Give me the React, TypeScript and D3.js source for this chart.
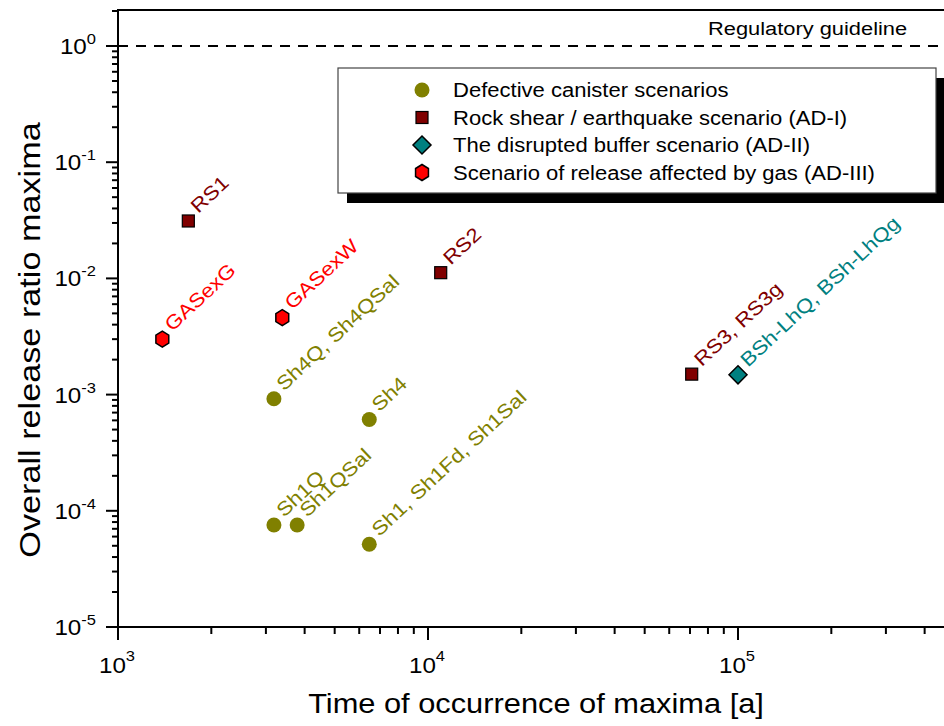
import React from "react";
import * as d3 from "d3";

const W = 944;
const H = 726;
const FONT = "'Liberation Sans', Arial, sans-serif";

// ---- data ----
const groups = ["defective", "rockshear", "buffer", "gas"];
const groupLegend = [
  "Defective canister scenarios",
  "Rock shear / earthquake scenario (AD-I)",
  "The disrupted buffer scenario (AD-II)",
  "Scenario of release affected by gas (AD-III)",
];
const groupFill = ["#808000", "#800000", "#008080", "#FF0000"];
const groupText = ["#808000", "#800000", "#008080", "#FF0000"];

const labels = [
  "Sh4Q, Sh4QSal",
  "Sh4",
  "Sh1Q",
  "Sh1QSal",
  "Sh1, Sh1Fd, Sh1Sal",
  "RS1",
  "RS2",
  "RS3, RS3g",
  "BSh-LhQ, BSh-LhQg",
  "GASexG",
  "GASexW",
];
const times = [3184, 6465, 3184, 3784, 6465, 1686, 10990, 70900, 100000, 1390, 3388];
const ratios = [9.2e-4, 6.1e-4, 7.55e-5, 7.55e-5, 5.15e-5, 0.0312, 0.0112, 0.0015, 0.00148, 0.0030, 0.0046];
const groupOf = [0, 0, 0, 0, 0, 1, 1, 1, 2, 3, 3];

const guidelineValue = 1;
const guidelineLabel = "Regulatory guideline";
const xMajorTicks = [1e3, 1e4, 1e5];
const yMajorTicks = [1, 1e-1, 1e-2, 1e-3, 1e-4, 1e-5];
const xTitle = "Time of occurrence of maxima [a]";
const yTitle = "Overall release ratio maxima";

// ---- scales ----
const x = d3.scaleLog().domain([1e3, 1e6]).range([118, 1048]);
const y = d3.scaleLog().domain([1e-5, 1]).range([627, 46]);
const left = 118;
const bottom = 627;
const top = 10;
const right = W + 2;

function Marker({ g, cx, cy }: { g: number; cx: number; cy: number }) {
  const fill = groupFill[g];
  if (g === 0) return <circle cx={cx} cy={cy} r={7.5} fill={fill} />;
  if (g === 1) {
    const s = 12;
    return <rect x={cx - s / 2} y={cy - s / 2} width={s} height={s} fill={fill} stroke="#000" strokeWidth={1.2} />;
  }
  if (g === 2) {
    const r = 9;
    const pts = [[cx, cy - r], [cx + r, cy], [cx, cy + r], [cx - r, cy]].map((p) => p.join(",")).join(" ");
    return <polygon points={pts} fill={fill} stroke="#000" strokeWidth={1.5} />;
  }
  const r = 8;
  const pts = d3
    .range(6)
    .map((i) => {
      const a = (Math.PI / 3) * i - Math.PI / 2;
      return [cx + r * Math.cos(a) * 0.93, cy + r * Math.sin(a)].join(",");
    })
    .join(" ");
  return <polygon points={pts} fill={fill} stroke="#000" strokeWidth={1.5} />;
}

function STxt({ x0, y0, rot = 0, sx = 1.14, size, anchor = "start", fill = "#000", children }: any) {
  return (
    <text
      transform={`translate(${x0},${y0}) rotate(${rot}) scale(${sx},1)`}
      fontFamily={FONT}
      fontSize={size}
      textAnchor={anchor}
      fill={fill}
    >
      {children}
    </text>
  );
}

export default function App() {
  const xMinor = x.ticks().filter((v) => !xMajorTicks.includes(v));
  const yMinor = d3
    .scaleLog()
    .domain([1e-5, 2])
    .ticks()
    .filter((v) => !yMajorTicks.some((m) => Math.abs(m - v) / m < 1e-6) && y(v) >= top);

  const exp = (v: number) => String(Math.round(Math.log10(v)));

  const lgX = 338, lgY = 68, lgW = 598, lgH = 125;
  const rows = [90, 117.5, 145, 172.5];

  return (
    <svg
      width={W}
      height={H}
      style={{ position: "absolute", left: 0, top: 0, background: "#fff" }}
    >
      <rect x={0} y={0} width={W} height={H} fill="#fff" />
      {/* guideline */}
      <line x1={left} x2={right} y1={y(guidelineValue)} y2={y(guidelineValue)} stroke="#000" strokeWidth={2} strokeDasharray="10,8" />
      <STxt x0={708} y0={35} size={19} sx={1.15}>{guidelineLabel}</STxt>

      {/* legend */}
      <rect x={lgX + 9} y={lgY + 10} width={lgW} height={lgH} fill="#000" />
      <rect x={lgX} y={lgY} width={lgW} height={lgH} fill="#fff" stroke="#444" strokeWidth={1.2} />
      {groups.map((gname, i) => (
        <g key={gname}>
          <Marker g={i} cx={422} cy={rows[i]} />
          <STxt x0={453} y0={rows[i] + 7} size={19.5} sx={1.13}>{groupLegend[i]}</STxt>
        </g>
      ))}

      {/* points */}
      {labels.map((lab, i) => {
        const cx = x(times[i]);
        const cy = y(ratios[i]);
        return (
          <g key={lab}>
            <Marker g={groupOf[i]} cx={cx} cy={cy} />
            <STxt x0={cx + 10} y0={cy - 7} rot={-43} size={19.5} sx={1.15} fill={groupText[groupOf[i]]}>
              {lab}
            </STxt>
          </g>
        );
      })}

      {/* frame */}
      <line x1={left} x2={right} y1={top} y2={top} stroke="#000" strokeWidth={2} />
      <line x1={left} x2={left} y1={top - 1} y2={bottom + 1} stroke="#000" strokeWidth={2} />
      <line x1={left - 1} x2={right} y1={bottom} y2={bottom} stroke="#000" strokeWidth={2} />

      {/* y ticks */}
      {yMajorTicks.map((v) => (
        <g key={"ym" + v}>
          <line x1={left - 12} x2={left} y1={y(v)} y2={y(v)} stroke="#000" strokeWidth={2} />
          <STxt x0={96} y0={y(v) + 8} size={22} sx={1.1} anchor="end">
            <tspan>10</tspan>
            <tspan dy={-10} fontSize={15}>{exp(v)}</tspan>
          </STxt>
        </g>
      ))}
      {yMinor.map((v) => (
        <line key={"yn" + v} x1={left - 6} x2={left} y1={y(v)} y2={y(v)} stroke="#000" strokeWidth={2} />
      ))}

      {/* x ticks */}
      {xMajorTicks.map((v) => (
        <g key={"xm" + v}>
          <line x1={x(v)} x2={x(v)} y1={bottom} y2={bottom + 13} stroke="#000" strokeWidth={2} />
          <STxt x0={x(v) - 1} y0={673} size={22} sx={1.1} anchor="middle">
            <tspan>10</tspan>
            <tspan dy={-12} fontSize={15}>{exp(v)}</tspan>
          </STxt>
        </g>
      ))}
      {xMinor.map((v) => (
        <line key={"xn" + v} x1={x(v)} x2={x(v)} y1={bottom} y2={bottom + 7} stroke="#000" strokeWidth={2} />
      ))}

      {/* titles */}
      <STxt x0={536} y0={713} size={28} sx={1.1} anchor="middle">{xTitle}</STxt>
      <STxt x0={40} y0={340} rot={-90} size={29} sx={1.18} anchor="middle">{yTitle}</STxt>
    </svg>
  );
}
